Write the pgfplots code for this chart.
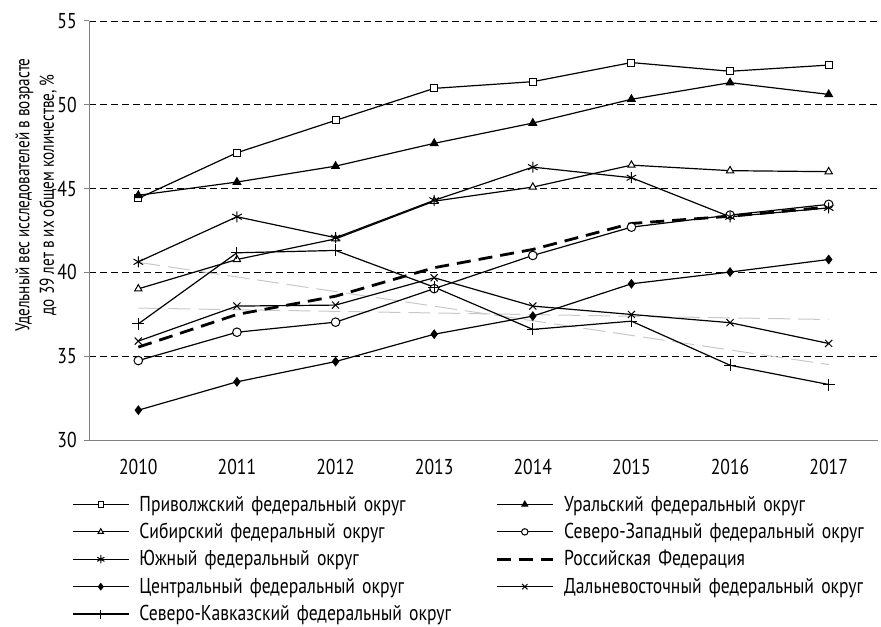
\documentclass[border=0pt]{standalone}
\usepackage{fontspec}
\setmainfont[FakeStretch=0.82]{PT Sans}
\newfontfamily\ylabfont[FakeStretch=0.76]{PT Sans}
\usepackage{pgfplots}
\pgfplotsset{compat=1.18}
\definecolor{axgray}{HTML}{808080}
\definecolor{trend}{HTML}{C8C8C8}
\begin{document}
\fontsize{21.5bp}{26bp}\selectfont
\begin{tikzpicture}
\path[use as bounding box] (0,0) rectangle (881bp,627bp);
\begin{axis}[
  at={(89bp,187bp)}, anchor=south west,
  scale only axis, width=789bp, height=419bp,
  xmin=-0.5, xmax=7.5, ymin=30, ymax=55,
  axis x line*=bottom, axis y line*=left,
  axis line style={draw=axgray, line width=1bp, -},
  tick align=outside,
  major tick length=5bp,
  tick style={draw=axgray, line width=1bp},
  xtick={0,...,7},
  xticklabels={2010,2011,2012,2013,2014,2015,2016,2017},
  x tick style={draw=none},
  extra x ticks={-0.5,0.5,...,7.5},
  extra x tick labels={},
  extra x tick style={tick style={draw=axgray, line width=1bp}, grid=none},
  ytick={30,35,...,55},
  ymajorgrids,
  major grid style={black, line width=0.8bp, dash pattern=on 7bp off 4bp},
  /pgf/number format/assume math mode=true,
  ticklabel style={font=\fontsize{21.5bp}{26bp}\selectfont},
  xticklabel style={yshift=-7bp},
  ylabel={Удельный вес исследователей в возрасте\\до 39 лет в их общем количестве, \%},
  ylabel style={align=center, at={(axis description cs:-0.0672,0.585)}, anchor=center, font=\ylabfont\fontsize{20bp}{24.5bp}\selectfont},
  legend columns=2,
  legend cell align=left,
  legend style={at={(axis description cs:-0.0393,-0.1207)}, anchor=north west, draw=none, fill=none, inner sep=0pt,
    font=\fontsize{21.5bp}{26bp}\selectfont,
    nodes={inner sep=0pt, text height=20.4bp, text depth=7bp, text width=342bp}},
  legend image code/.code={\path (-14bp,0bp) (66bp,0bp);\draw[mark repeat=2,mark phase=2,#1,/tikz/every mark/.append style={scale=0.75}] plot coordinates {(0bp,0bp) (28bp,0bp) (56bp,0bp)};},
  every axis plot/.append style={black, line width=1.2bp},
  clip=false,
]
% linear trends (light grey)
\addplot[forget plot, trend, line width=1bp, dash pattern=on 22bp off 8bp] coordinates {(0,40.6) (7,34.5)};
\addplot[forget plot, trend, line width=1bp, dash pattern=on 22bp off 8bp] coordinates {(0,37.87) (7,37.19)};

\addplot[mark=square*, mark size=3.5bp, mark options={fill=white, solid, line width=1bp}] coordinates {
(0,44.42) (1,47.14) (2,49.07) (3,50.98) (4,51.38) (5,52.52) (6,52.0) (7,52.37)};
\addlegendentry{Приволжский федеральный округ}
\addplot[mark=triangle*, mark size=4.2bp, mark options={fill=black, solid}] coordinates {
(0,44.6) (1,45.39) (2,46.34) (3,47.7) (4,48.91) (5,50.33) (6,51.32) (7,50.62)};
\addlegendentry{Уральский федеральный округ}
\addplot[mark=triangle*, mark size=4.2bp, mark options={fill=white, solid, line width=1bp}] coordinates {
(0,39.02) (1,40.77) (2,42.0) (3,44.25) (4,45.09) (5,46.4) (6,46.07) (7,46.01)};
\addlegendentry{Сибирский федеральный округ}
\addplot[mark=*, mark size=4.3bp, mark options={fill=white, solid, line width=1bp}] coordinates {
(0,34.74) (1,36.43) (2,37.03) (3,39.03) (4,41.01) (5,42.7) (6,43.42) (7,44.06)};
\addlegendentry{Северо-Западный федеральный округ}
\addplot[mark=asterisk, mark size=5.5bp, mark options={solid, line width=1bp}] coordinates {
(0,40.63) (1,43.32) (2,42.07) (3,44.3) (4,46.28) (5,45.65) (6,43.32) (7,43.85)};
\addlegendentry{Южный федеральный округ}
\addplot[no marks, line width=2.8bp, dash pattern=on 14bp off 8bp] coordinates {
(0,35.54) (1,37.49) (2,38.58) (3,40.28) (4,41.37) (5,42.92) (6,43.35) (7,43.9)};
\addlegendentry{Российская Федерация}
\addplot[mark=diamond*, mark size=4bp, mark options={fill=black, solid}] coordinates {
(0,31.78) (1,33.47) (2,34.68) (3,36.31) (4,37.39) (5,39.32) (6,40.02) (7,40.77)};
\addlegendentry{Центральный федеральный округ}
\addplot[mark=x, mark size=5bp, mark options={solid, line width=1bp}] coordinates {
(0,35.9) (1,37.99) (2,38.05) (3,39.68) (4,37.99) (5,37.49) (6,37.0) (7,35.76)};
\addlegendentry{Дальневосточный федеральный округ}
\addplot[mark=+, mark size=6bp, mark options={solid, line width=1bp}] coordinates {
(0,36.93) (1,41.17) (2,41.31) (3,39.12) (4,36.6) (5,37.09) (6,34.46) (7,33.31)};
\addlegendentry{Северо-Кавказский федеральный округ}
\end{axis}
\end{tikzpicture}
\end{document}
